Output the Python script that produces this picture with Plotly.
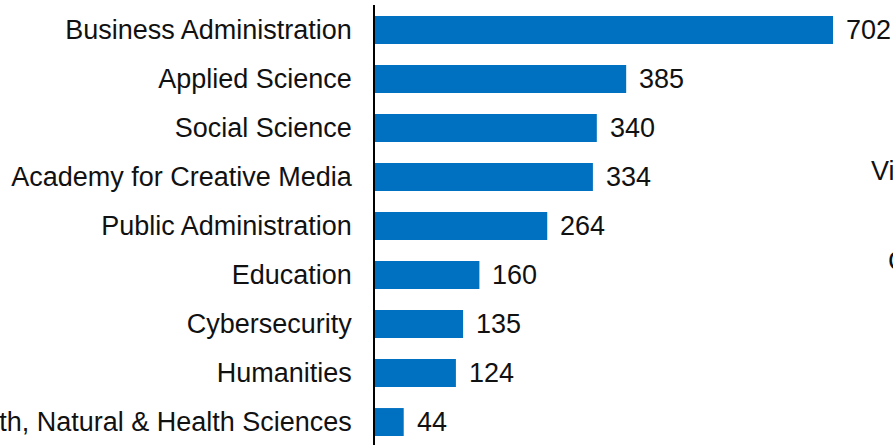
import plotly.graph_objects as go

categories = ["Business Administration", "Applied Science", "Social Science",
              "Academy for Creative Media", "Public Administration", "Education",
              "Cybersecurity", "Humanities", "Earth, Natural & Health Sciences"]
values = [702, 385, 340, 334, 264, 160, 135, 124, 44]

W, H = 893, 445
axis_px = 375
px_per_unit = (833 - 375) / 702
x_max = (W - axis_px) / px_per_unit
FONT = "Liberation Sans, Arial, sans-serif"
TXT = "#111111"
FS = 27

fig = go.Figure(go.Bar(
    x=values, y=categories, orientation="h",
    marker=dict(color="#0070C0", line=dict(width=0)),
    width=0.57,
))

for c, v in zip(categories, values):
    fig.add_annotation(x=v, y=c, xref="x", yref="y", text=str(v), showarrow=False,
                       xanchor="left", yanchor="middle", xshift=11,
                       font=dict(family=FONT, size=FS, color=TXT))

fig.update_layout(
    width=W, height=H,
    margin=dict(l=0, r=0, t=5, b=0),
    paper_bgcolor="white", plot_bgcolor="white",
    showlegend=False,
    font=dict(family=FONT, size=FS, color=TXT),
    xaxis=dict(domain=[axis_px / W, 1], range=[0, x_max], showgrid=False,
               zeroline=False, showticklabels=False, showline=False),
    yaxis=dict(range=[8.469, -0.510], showgrid=False, zeroline=False,
               showline=True, linecolor="black", linewidth=1.5,
               ticks="", ticklabelstandoff=16, automargin=False,
               tickfont=dict(size=FS, color=TXT)),
)
fig.add_annotation(text="Visual", x=869 / W, y=1 - (171 - 5) / 440, xref="paper", yref="paper",
                   showarrow=False, xanchor="left", yanchor="middle",
                   font=dict(size=FS, color=TXT))
fig.add_annotation(text="Cinema", x=886 / W, y=1 - (261 - 5) / 440, xref="paper", yref="paper",
                   showarrow=False, xanchor="left", yanchor="middle",
                   font=dict(size=FS, color=TXT))

fig.write_html("out.html", config={"displayModeBar": False},
               post_script="document.body.style.margin='0';")
